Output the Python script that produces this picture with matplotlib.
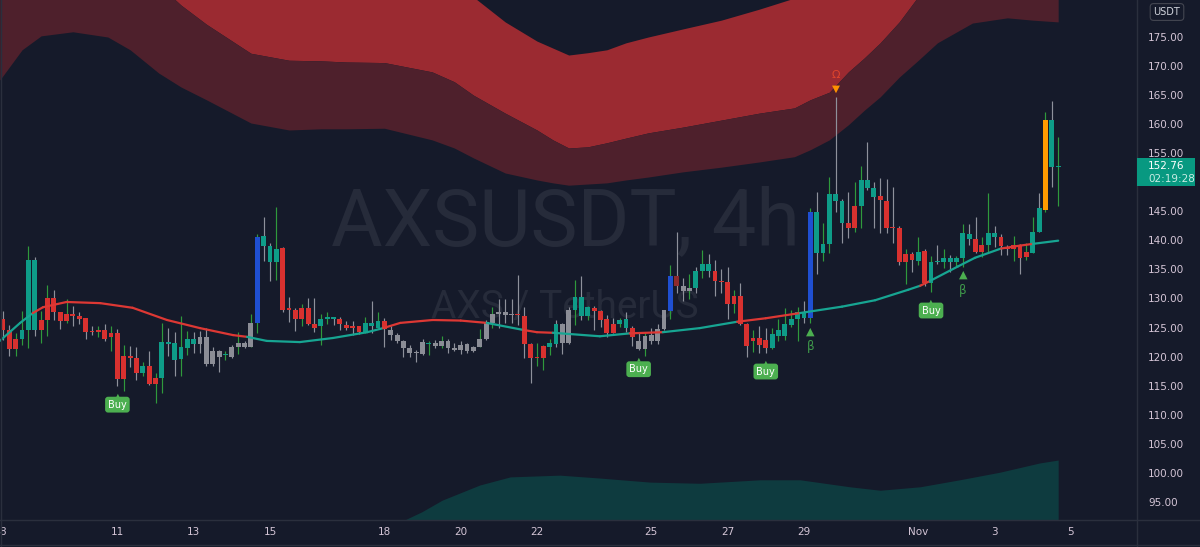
import numpy as np
import matplotlib
matplotlib.use("Agg")
import matplotlib.pyplot as plt
import matplotlib.transforms as mtransforms
from matplotlib.patches import Rectangle
from matplotlib.lines import Line2D
from matplotlib.collections import LineCollection

# 4h candles starting Oct 8 00:00
opens = [126.5, 124.6, 123.1, 123.0, 124.5, 124.6, 126.3, 130.0, 130.0, 127.6,
         127.3, 127.3, 127.0, 126.6, 124.4, 124.5, 124.6, 124.0, 124.0, 120.1,
         120.1, 119.8, 117.1, 118.4, 116.4, 116.4, 122.2, 119.5, 119.6, 121.5,
         122.1, 122.1, 123.4, 118.7, 120.9, 120.2, 120.0, 121.7, 121.7, 121.7,
         125.7, 139.0, 136.3, 136.3, 138.7, 128.3, 128.0, 128.4, 128.4, 125.6,
         125.2, 126.4, 126.5, 126.4, 125.4, 125.3, 125.2, 124.2, 125.2, 125.0,
         126.2, 124.6, 123.8, 122.6, 121.4, 120.6, 120.4, 122.2, 122.4, 121.8,
         122.7, 121.4, 121.1, 122.1, 121.0, 121.7, 123.0, 125.7, 127.3, 127.6,
         127.2, 127.3, 127.0, 122.2, 119.9, 121.8, 121.7, 122.2, 125.6, 122.3,
         128.1, 127.0, 127.0, 128.3, 127.85, 126.4, 125.6, 125.6, 124.9, 124.9,
         122.7, 121.25, 123.7, 122.7, 124.75, 127.9, 133.9, 132.15, 131.35, 131.75,
         134.7, 134.7, 134.8, 133.0, 132.9, 130.5, 130.5, 125.6, 123.2, 123.2,
         122.9, 121.5, 123.6, 123.5, 125.4, 126.4, 126.6, 126.6, 137.8, 137.9,
         139.4, 146.7, 143.0, 143.0, 145.9, 145.9, 149.1, 147.5, 147.6, 146.8,
         142.2, 142.1, 137.65, 137.65, 136.45, 138.2, 132.7, 136.2, 136.2, 136.2,
         136.2, 136.9, 140.2, 140.2, 139.2, 139.2, 140.5, 140.5, 138.9, 139.2,
         139.2, 138.05, 137.9, 141.5, 145.3, 152.6, 152.6]
closes = [124.6, 121.3, 121.3, 124.5, 136.6, 136.6, 124.5, 126.3, 127.6, 126.2,
          126.1, 127.0, 126.5, 124.3, 124.2, 124.2, 123.1, 123.3, 116.2, 116.2,
          119.7, 117.1, 118.4, 115.2, 115.2, 122.5, 122.5, 122.3, 121.7, 123.1,
          123.1, 123.4, 118.7, 120.9, 120.0, 120.3, 121.7, 122.3, 122.3, 125.7,
          140.6, 140.8, 139.0, 138.6, 128.1, 128.0, 126.4, 126.4, 125.6, 125.0,
          126.4, 126.8, 126.8, 125.6, 125.0, 125.0, 124.2, 125.7, 125.7, 126.2,
          124.7, 123.8, 122.6, 121.5, 120.6, 120.85, 122.45, 122.3, 121.8, 122.7,
          121.4, 121.1, 122.0, 121.0, 121.7, 123.0, 126.0, 127.3, 127.6, 127.2,
          127.3, 127.1, 122.2, 119.7, 119.7, 119.7, 122.3, 125.6, 122.3, 128.1,
          130.2, 130.2, 128.5, 127.85, 126.3, 124.1, 124.1, 126.3, 126.4, 123.4,
          121.25, 123.6, 122.7, 124.75, 128.0, 133.9, 132.15, 131.35, 131.75, 134.7,
          135.9, 135.9, 133.0, 132.8, 129.0, 129.0, 125.6, 121.8, 122.6, 122.0,
          121.5, 123.9, 124.6, 125.6, 126.5, 127.7, 127.7, 144.8, 144.8, 139.4,
          148.0, 148.0, 146.7, 142.1, 142.2, 150.4, 150.4, 149.1, 147.0, 142.2,
          142.1, 136.2, 136.2, 136.6, 138.05, 132.6, 136.3, 136.45, 137.0, 137.0,
          136.9, 141.2, 141.1, 138.05, 138.05, 141.3, 141.3, 139.0, 138.45, 138.45,
          136.9, 137.1, 141.5, 145.5, 160.7, 160.7, 152.76]
highs = [127.9, 125.4, 124.0, 127.9, 139.0, 137.2, 127.9, 132.4, 131.4, 127.7,
         129.9, 128.7, 127.6, 126.7, 125.3, 125.3, 125.6, 125.2, 124.7, 122.0,
         121.9, 121.6, 119.0, 121.0, 117.2, 125.8, 125.0, 124.2, 127.0, 124.4,
         124.3, 124.4, 124.9, 121.7, 121.1, 120.9, 122.0, 124.2, 122.7, 127.3,
         141.1, 144.1, 139.5, 145.7, 138.8, 130.3, 128.3, 129.0, 130.0, 130.0,
         127.4, 127.7, 126.9, 126.9, 126.2, 126.2, 125.3, 126.8, 129.6, 127.7,
         126.6, 125.3, 124.0, 122.9, 122.0, 121.1, 123.0, 122.6, 122.9, 123.5,
         123.0, 122.4, 122.6, 122.3, 121.8, 124.7, 126.3, 128.6, 129.9, 129.9,
         129.9, 134.0, 128.6, 122.3, 122.3, 122.0, 123.1, 126.3, 125.7, 128.6,
         133.2, 133.9, 128.7, 128.7, 128.0, 127.2, 126.6, 126.6, 127.7, 125.3,
         124.3, 124.3, 124.9, 125.6, 128.1, 135.8, 141.5, 133.5, 134.2, 135.5,
         138.35, 137.6, 136.6, 135.0, 135.4, 131.5, 132.6, 125.7, 124.5, 125.2,
         125.0, 125.0, 126.5, 128.3, 128.0, 128.6, 129.6, 145.5, 148.4, 143.0,
         150.9, 164.7, 147.2, 148.3, 150.0, 152.8, 157.0, 150.1, 150.7, 150.5,
         149.2, 142.4, 138.45, 138.05, 140.6, 138.6, 137.3, 139.2, 138.45, 137.5,
         137.3, 142.8, 142.8, 144.1, 140.5, 148.1, 142.5, 141.1, 139.2, 140.75,
         139.4, 139.6, 144.1, 148.1, 162.15, 164.0, 157.8]
lows = [122.9, 120.1, 120.1, 122.0, 121.4, 123.5, 122.4, 123.5, 126.3, 124.8,
        125.7, 125.3, 125.6, 123.1, 123.7, 123.4, 122.6, 121.0, 115.0, 114.0,
        118.2, 116.0, 116.7, 115.1, 112.0, 113.7, 120.1, 116.7, 116.7, 120.3,
        120.6, 120.7, 118.3, 118.3, 117.4, 119.5, 119.7, 120.4, 121.4, 121.6,
        124.1, 136.5, 133.0, 133.1, 127.7, 126.0, 124.4, 125.2, 125.5, 124.3,
        122.0, 125.6, 125.4, 124.6, 124.5, 123.7, 123.9, 124.1, 124.1, 124.9,
        121.6, 122.9, 122.3, 120.0, 120.0, 119.1, 120.3, 120.3, 121.4, 121.4,
        120.7, 121.0, 120.4, 120.7, 120.85, 121.6, 122.9, 124.9, 124.9, 125.8,
        125.7, 125.4, 119.7, 115.4, 118.3, 117.7, 120.3, 121.7, 120.4, 122.2,
        125.4, 126.3, 126.3, 124.6, 125.15, 123.4, 124.0, 125.15, 124.3, 121.8,
        121.1, 120.1, 122.1, 122.2, 124.6, 126.5, 130.9, 129.6, 129.85, 130.9,
        133.5, 133.75, 130.5, 131.0, 126.5, 127.5, 125.5, 120.0, 120.8, 120.7,
        120.7, 121.3, 122.6, 122.85, 125.1, 122.7, 125.7, 125.7, 134.2, 136.5,
        137.8, 144.9, 139.6, 140.35, 141.5, 142.2, 148.7, 142.2, 141.2, 141.2,
        139.6, 135.8, 132.5, 134.6, 135.8, 132.1, 131.2, 135.9, 135.2, 134.6,
        135.6, 135.4, 139.2, 137.8, 137.2, 138.05, 138.9, 137.5, 137.5, 136.5,
        134.3, 136.6, 137.9, 141.5, 144.9, 149.2, 145.9]

# body colour per candle: t=teal r=red g=gray b=blue m=dark red o=orange
body_kind = ("rrr" + "ttt" + "r" * 16 + "t" + "rr" + "t" * 6 + "g" * 4 + "t" + "g" * 4 + "b"
             + "ttt" + "r" * 6 + "ttt" + "rrrr" + "ttt" + "r" + "g" * 6 + "t" + "g" * 13
             + "r" * 5 + "tt" + "gg" + "ttt" + "rrrr" + "tt" + "r" + "g" * 5 + "b" + "m" + "gg"
             + "ttt" + "r" * 9 + "t" * 6 + "b" + "t" * 5 + "rr" + "ttt" + "r" * 6 + "t" + "r"
             + "t" * 7 + "rr" + "tt" + "r" * 5 + "tt" + "o" + "tt")
# wick colour per candle: g=gray v=green
wick_kind = ("ggvvvgvvgg" "vggggvgvgv" "ggvgvvggvv" "gggggvgvgv" "vggvgggvgg"
             "vvgggggvgv" "gggggggvgv" "gggggvgvgg" "ggggvvvggg" "vgvggggvgg"
             "gvgggvggvg" "vggggvggvg" "gvvvvvgvgv" "vgggvvgggg" "ggvgvgvgvg"
             "vvggvvgggv" "gvvgvgv")

# smoothed average line and where it is red / teal
ma_idx = [-0.5, 2.7, 4.7, 6.3, 10, 15.3, 20.4, 25.8, 31, 36.2, 38.4, 41.5, 46.7, 51.9,
          57.3, 59.8, 62.5, 67.6, 72, 76.1, 81.8, 84, 86.5, 93.9, 98.6, 103.8, 109.6,
          115.5, 120, 125.4, 132, 137.2, 142.4, 144.3, 145.8, 150.2, 152.9, 157.0, 160,
          162, 166]
ma_val = [122.7, 125.8, 127.5, 128.5, 129.4, 129.2, 128.4, 126.3, 124.9, 123.7, 123.4,
          122.7, 122.5, 123.2, 124.2, 124.9, 125.8, 126.3, 126.2, 125.8, 124.6, 124.2,
          124.1, 123.5, 124.0, 124.2, 124.9, 126.0, 126.6, 127.5, 128.6, 129.7, 131.5,
          132.2, 133.0, 135.5, 137.0, 138.6, 139.1, 139.4, 139.95]
ma_kind = ("tt" + "r" * 8 + "t" * 5 + "rrrr" + "t" + "rr" + "tt" + "r" + "tt" + "rr"
           + "tttt" + "r" + "ttt" + "rr" + "t")

# upper envelope bands (values above the top of the chart are off screen)
band_idx = [-0.5, 3, 6, 11, 16.5, 20, 24.5, 28, 32, 39, 45, 50, 54, 60, 67.5, 71, 74, 79,
            84, 86.5, 89, 92, 95, 98, 101.5, 107, 113, 119, 124.5, 127, 130, 133, 135.5,
            138, 141, 144, 147, 152.5, 158, 162, 166]
band_outer = [167.6, 172.8, 175.2, 175.9, 175.0, 172.8, 168.8, 166.4, 164.2, 160.2, 159.0,
              159.2, 159.2, 159.3, 157.3, 155.9, 154.2, 151.6, 150.4, 149.9, 149.5, 149.7,
              149.9, 150.4, 150.9, 151.8, 152.6, 153.5, 154.4, 155.6, 157.3, 159.9, 162.4,
              164.7, 168.1, 171.0, 174.0, 177.4, 178.3, 177.9, 177.6]
band_mid = [192, 191, 190, 189, 188, 186, 184, 180.5, 177.2, 172.2, 171.0, 170.9, 170.7,
            170.6, 169.0, 167.3, 165.0, 161.9, 159.0, 157.3, 155.9, 156.1, 156.8, 157.6,
            158.5, 159.5, 160.7, 161.9, 162.8, 164.2, 165.5, 169.0, 171.4, 174.0, 177.6,
            182, 184.8, 189, 190, 190, 191]
band_inner = [195, 195, 195, 195, 195, 195, 195, 195, 195, 195, 195, 195, 195, 195, 195,
              190, 181.9, 177.6, 174.3, 173.1, 171.9, 172.3, 172.8, 174.0, 175.0, 176.4,
              177.9, 179.8, 181.7, 190, 195, 195, 195, 195, 195, 195, 195, 195, 195, 195,
              195]

# lower band
low_idx = [62.45, 63.2, 65.9, 69.1, 75.0, 79.8, 87.6, 93.9, 101.8, 109.6, 119.1, 125.4,
           133.2, 138.0, 144.3, 150.5, 156.8, 163.1, 166.0]
low_band = [90.2, 91.9, 93.3, 95.3, 97.9, 99.3, 99.6, 99.1, 98.4, 98.2, 98.8, 98.8,
            97.6, 97.0, 97.6, 98.8, 100.1, 101.7, 102.2]

buy_idx = [18, 100, 120, 146]
beta_idx = [127, 151]
omega_idx = [131]

date_idx = [0, 18, 30, 42, 60, 72, 84, 102, 114, 126, 144, 156, 168]
date_lbl = ["8", "11", "13", "15", "18", "20", "22", "25", "27", "29", "Nov", "3", "5"]
price_ticks = list(range(95, 181, 5))
hidden_ticks = [150, 180]   # covered by the price box / currency badge

BG = "#151a2a"
AXC = "#d4c5d6"
SEP = "#2a2f3d"
BODY = {"t": "#0e9c88", "r": "#d8312f", "g": "#8b8d96", "b": "#1f4fd1",
        "m": "#8e2a2e", "o": "#ff9b00"}
WICK = {"g": "#8e919b", "v": "#2f9a3c"}
MA_COL = {"t": "#17a592", "r": "#dd3834"}

plt.rcParams["font.family"] = ["DejaVu Sans"]

fig = plt.figure(figsize=(12, 5.47), dpi=100, facecolor=BG)
ax = fig.add_axes([0, 27 / 547, 1137 / 1200, 520 / 547])
ax.set_facecolor(BG)
ax.set_xlim(-0.47, 178.4)
ax.set_ylim(91.88, 181.37)

# bands
ax.fill_between(band_idx, band_mid, band_inner, color="#9b2a31", lw=0, zorder=1)
ax.fill_between(band_idx, band_outer, band_mid, color="#4e202c", lw=0, zorder=1)
ax.fill_between(low_idx, 80, low_band, color="#0e3b3f", lw=0, zorder=1)

# watermark
ax.text(0.497, 0.529, "AXSUSDT, 4h", transform=ax.transAxes, ha="center", va="baseline",
        fontsize=57, color="#262b3a", family="Roboto", zorder=1.5)
ax.text(0.497, 0.388, "AXS / TetherUS", transform=ax.transAxes, ha="center", va="baseline",
        fontsize=28, color="#262b3a", family="Roboto", zorder=1.5)

# candles
idx = np.arange(len(opens))
o = np.array(opens)
c = np.array(closes)
ax.vlines(idx, lows, highs, colors=[WICK[k] for k in wick_kind], lw=0.85, zorder=3)
ax.bar(idx, np.maximum(np.abs(c - o), 0.2), bottom=np.minimum(o, c), width=0.76,
       color=[BODY[k] for k in body_kind], lw=0, zorder=4)

# average line
pts = np.column_stack([ma_idx, ma_val])
segs = np.stack([pts[:-1], pts[1:]], axis=1)
ax.add_collection(LineCollection(segs, colors=[MA_COL[k] for k in ma_kind],
                                 linewidths=1.6, capstyle="round", joinstyle="round",
                                 zorder=5))

# signals
for i in buy_idx:
    ax.annotate("Buy", xy=(i, lows[i]), xytext=(0, -19), textcoords="offset pixels",
                ha="center", va="center", fontsize=7, color="white", zorder=6,
                bbox=dict(boxstyle="round,pad=0.3", fc="#4caf50", ec="none"))
    ax.annotate("▲", xy=(i, lows[i]), xytext=(0, -9), textcoords="offset pixels",
                ha="center", va="center", fontsize=3.5, color="#4caf50", zorder=6)
for i in beta_idx:
    ax.annotate("▲", xy=(i, lows[i]), xytext=(0, -8), textcoords="offset pixels",
                ha="center", va="center", fontsize=8, color="#4caf50", zorder=6)
    ax.annotate("β", xy=(i, lows[i]), xytext=(0, -23), textcoords="offset pixels",
                ha="center", va="center", fontsize=8.5, color="#3f9b4b", zorder=6)
for i in omega_idx:
    ax.annotate("▼", xy=(i, highs[i]), xytext=(0, 8), textcoords="offset pixels",
                ha="center", va="center", fontsize=7.5, color="#ff9100", zorder=6)
    ax.annotate("Ω", xy=(i, highs[i]), xytext=(0, 22), textcoords="offset pixels",
                ha="center", va="center", fontsize=8, color="#e0442c", zorder=6)

# axes
for s in ax.spines.values():
    s.set_visible(False)
ax.yaxis.tick_right()
ax.set_yticks(price_ticks)
ax.set_yticklabels(["" if v in hidden_ticks else f"{v:.2f}" for v in price_ticks])
ax.tick_params(axis="y", length=0, pad=8, labelsize=7.5, labelcolor=AXC)
ax.set_xticks(date_idx)
ax.set_xticklabels(date_lbl)
ax.tick_params(axis="x", length=0, pad=5, labelsize=7.5, labelcolor=AXC)

# frame lines
fig.add_artist(Line2D([1137 / 1200] * 2, [0, 1], transform=fig.transFigure, color=SEP, lw=1))
fig.add_artist(Line2D([0, 1], [27 / 547] * 2, transform=fig.transFigure, color=SEP, lw=1))
fig.add_artist(Line2D([0.0005] * 2, [0, 1], transform=fig.transFigure, color=SEP, lw=1))
fig.add_artist(Line2D([0, 1], [0.003] * 2, transform=fig.transFigure, color=SEP, lw=1))

# last price box
trans = mtransforms.blended_transform_factory(ax.transAxes, ax.transData)
last = closes[-1]
fig.add_artist(Rectangle((1.0, last - 3.4), 0.051, 4.82, transform=trans,
                         fc="#089981", ec="none", zorder=5))
fig.text(1.0097, last, f"{last:.2f}", transform=trans, ha="left", va="center",
         fontsize=7.5, color="white", zorder=6)
fig.text(1.0097, last, "02:19:28",
         transform=mtransforms.offset_copy(trans, fig=fig, y=-13, units="dots"),
         ha="left", va="center", fontsize=7.5, color="#c9ece4", zorder=6)

fig.text(1167 / 1200, 1 - 12 / 547, "USDT", ha="center", va="center", fontsize=7,
         color="#d1d4dc", zorder=6,
         bbox=dict(boxstyle="round,pad=0.35", fc=BG, ec="#434651", lw=0.8))

fig.savefig("out.png", dpi=100, facecolor=BG)
